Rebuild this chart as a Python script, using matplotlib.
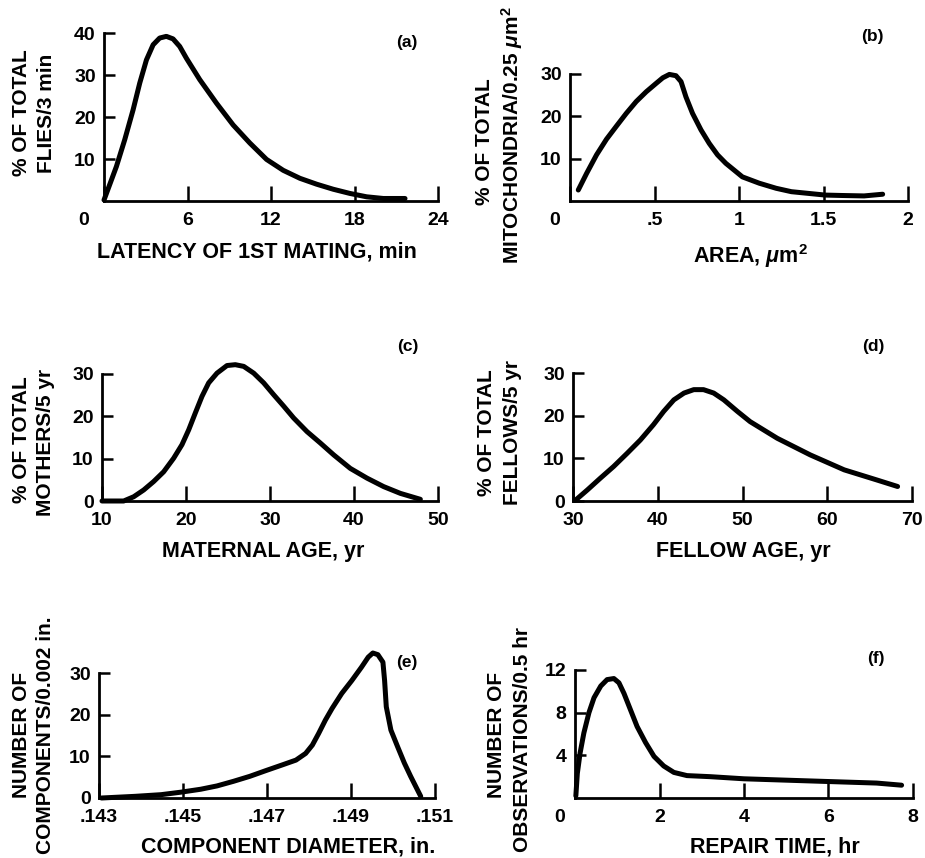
import matplotlib
matplotlib.use("Agg")
import matplotlib.pyplot as plt

plt.rcParams['font.family'] = ['Liberation Sans', 'DejaVu Sans']
plt.rcParams['font.weight'] = 'bold'
plt.rcParams['mathtext.fontset'] = 'custom'
plt.rcParams['mathtext.rm'] = 'Liberation Sans:bold'
plt.rcParams['mathtext.it'] = 'Liberation Sans:bold:italic'

W, H = 925, 858

# (a) latency of first mating
a_x = [0, 0.89, 1.49, 2.09, 2.57, 3.05, 3.53, 4.0, 4.48, 4.96, 5.44, 5.92, 6.88, 8.08,
       9.28, 10.48, 11.68, 12.88, 14.08, 15.28, 16.47, 17.67, 18.87, 20.07, 21.63]
a_y = [0.24, 8.2, 14.6, 21.7, 28.1, 33.6, 37.2, 38.8, 39.2, 38.6, 36.8, 34.0, 28.9, 23.3,
       18.1, 13.8, 9.9, 7.3, 5.4, 4.0, 2.8, 1.8, 1.0, 0.6, 0.6]

# (b) mitochondria area
b_x = [0.049, 0.098, 0.157, 0.216, 0.275, 0.333, 0.392, 0.451, 0.51, 0.549, 0.588, 0.627,
       0.657, 0.686, 0.725, 0.775, 0.824, 0.873, 0.922, 1.02, 1.12, 1.22, 1.31, 1.41, 1.51,
       1.61, 1.74, 1.85]
b_y = [2.6, 6.5, 10.9, 14.6, 17.7, 20.7, 23.5, 25.8, 27.8, 29.1, 29.9, 29.6,
       28.2, 24.6, 20.7, 16.8, 13.6, 10.9, 8.9, 5.7, 4.2, 3.0, 2.2, 1.8, 1.4,
       1.3, 1.2, 1.6]

# (c) maternal age
c_x = [10, 12.58, 13.77, 14.96, 16.15, 17.34, 18.53, 19.52, 20.32, 21.11, 21.9, 22.7, 23.69,
       24.88, 25.87, 26.87, 28.06, 29.25, 30.44, 31.63, 32.82, 34.4, 35.99, 37.58, 39.56,
       41.55, 43.53, 45.52, 47.9]
c_y = [0, 0, 1.0, 2.6, 4.6, 6.9, 10.1, 13.3, 16.8, 20.8, 24.7, 27.9, 30.2,
       32.0, 32.2, 31.8, 30.2, 27.9, 25.1, 22.4, 19.6, 16.4, 13.7, 10.9, 7.7,
       5.4, 3.4, 1.8, 0.4]

# (d) fellow age
d_x = [30.3, 31.7, 33.2, 34.8, 36.4, 37.95, 39.5, 40.7, 41.9, 43.1, 44.25, 45.4, 46.6, 47.8,
       49.4, 50.9, 54.1, 58.0, 62.0, 65.9, 68.3]
d_y = [0.2, 2.6, 5.3, 8.1, 11.2, 14.3, 17.9, 21.0, 23.7, 25.3, 26.1, 26.1, 25.3, 23.7,
       21.0, 18.6, 14.7, 10.8, 7.3, 4.9, 3.4]

# (e) component diameter
e_x = [.14306, .14386, .14448, .14495, .14542, .14581, .1462, .14659, .14698, .14738, .14769,
       .14792, .14808, .14823, .14839, .14855, .14878, .14902, .14925, .14941, .14952, .14964,
       .14976, .1498, .14984, .14995, .15011, .15027, .15042, .15066]
e_y = [0, 0.4, 0.8, 1.4, 2.1, 2.9, 4.0, 5.2, 6.6, 8.0, 9.1,
       10.7, 12.7, 15.5, 18.7, 21.5, 25.1, 28.2, 31.4, 33.8, 34.8, 34.4,
       32.6, 28.2, 21.9, 16.3, 12.3, 8.4, 5.2, 0.4]

# (f) repair time
f_x = [0.02, 0.055, 0.12, 0.21, 0.33, 0.45, 0.61, 0.76, 0.92, 1.04, 1.16, 1.31, 1.47, 1.67,
       1.87, 2.1, 2.34, 2.65, 3.2, 4.0, 5.17, 6.35, 7.14, 7.73]
f_y = [0.2, 2.3, 4.2, 6.1, 8.0, 9.4, 10.5, 11.1, 11.2, 10.8, 9.8, 8.3, 6.7, 5.2,
       3.9, 3.0, 2.4, 2.1, 2.0, 1.8, 1.65, 1.5, 1.4, 1.2]

panels = [
    dict(tag='(a)', x=a_x, y=a_y, box=(104, 438, 33, 201), xlim=(0, 24), ylim=(0, 40),
         xt=[0, 6, 12, 18, 24], xtl=['', '6', '12', '18', '24'],
         yt=[10, 20, 30, 40], ytl=['10', '20', '30', '40'], corner=-15,
         xlab='LATENCY OF 1ST MATING, min', xlab_pos=(257, 258),
         ylab=['% OF TOTAL', 'FLIES/3 min'], ylab_pos=[(22, 113), (46, 113)], tag_pos=(407, 43)),
    dict(tag='(b)', x=b_x, y=b_y, box=(570, 908, 74, 201), xlim=(0, 2), ylim=(0, 30),
         xt=[0, 0.5, 1, 1.5, 2], xtl=['', '.5', '1', '1.5', '2'],
         yt=[10, 20, 30], ytl=['10', '20', '30'], corner=-11,
         xlab=r'AREA, $\mu$m$^2$', xlab_pos=(750, 263),
         ylab=['% OF TOTAL', r'MITOCHONDRIA/0.25 $\mu$m$^2$'], ylab_pos=[(485, 142), (512, 135)],
         tag_pos=(872, 36)),
    dict(tag='(c)', x=c_x, y=c_y, box=(102, 438, 374, 501), xlim=(10, 50), ylim=(0, 30),
         xt=[10, 20, 30, 40, 50], xtl=['10', '20', '30', '40', '50'],
         yt=[0, 10, 20, 30], ytl=['0', '10', '20', '30'], corner=None,
         xlab='MATERNAL AGE, yr', xlab_pos=(263, 557),
         ylab=['% OF TOTAL', 'MOTHERS/5 yr'], ylab_pos=[(22, 440), (46, 442)], tag_pos=(408, 347)),
    dict(tag='(d)', x=d_x, y=d_y, box=(573, 912, 373, 501), xlim=(30, 70), ylim=(0, 30),
         xt=[30, 40, 50, 60, 70], xtl=['30', '40', '50', '60', '70'],
         yt=[0, 10, 20, 30], ytl=['0', '10', '20', '30'], corner=None,
         xlab='FELLOW AGE, yr', xlab_pos=(743, 557),
         ylab=['% OF TOTAL', 'FELLOWS/5 yr'], ylab_pos=[(487, 433), (512, 433)], tag_pos=(873, 347)),
    dict(tag='(e)', x=e_x, y=e_y, box=(99, 435, 673, 798), xlim=(.143, .151), ylim=(0, 30),
         xt=[.143, .145, .147, .149, .151], xtl=['.143', '.145', '.147', '.149', '.151'],
         yt=[0, 10, 20, 30], ytl=['0', '10', '20', '30'], corner=None,
         xlab='COMPONENT DIAMETER, in.', xlab_pos=(288, 853),
         ylab=['NUMBER OF', 'COMPONENTS/0.002 in.'], ylab_pos=[(22, 735), (46, 735)], tag_pos=(407, 662)),
    dict(tag='(f)', x=f_x, y=f_y, box=(575, 913, 670, 798), xlim=(0, 8), ylim=(0, 12),
         xt=[0, 2, 4, 6, 8], xtl=['', '2', '4', '6', '8'],
         yt=[4, 8, 12], ytl=['4', '8', '12'], corner=-11,
         xlab='REPAIR TIME, hr', xlab_pos=(775, 852),
         ylab=['NUMBER OF', 'OBSERVATIONS/0.5 hr'], ylab_pos=[(497, 735), (522, 740)], tag_pos=(876, 658)),
]

fig = plt.figure(figsize=(W / 100, H / 100), dpi=100)

for p in panels:
    l, r, t, b = p['box']
    ax = fig.add_axes([l / W, 1 - b / H, (r - l) / W, (b - t) / H])
    ax.plot(p['x'], p['y'], color='black', lw=3.6, solid_capstyle='round',
            solid_joinstyle='round', clip_on=False)
    ax.set_xlim(*p['xlim'])
    ax.set_ylim(*p['ylim'])
    for s in ['top', 'right']:
        ax.spines[s].set_visible(False)
    for s in ['left', 'bottom']:
        ax.spines[s].set_linewidth(2)
    ax.set_xticks(p['xt'])
    ax.set_xticklabels(p['xtl'])
    ax.set_yticks(p['yt'])
    ax.set_yticklabels(p['ytl'])
    ax.tick_params(axis='x', direction='in', length=11, width=1.8, pad=8, labelsize=14)
    ax.tick_params(axis='y', direction='in', length=8, width=1.8, pad=6, labelsize=14)
    ax.patch.set_visible(False)
    if p['corner'] is not None:
        ax.annotate('0', xy=(0, 0), xycoords='axes fraction', xytext=(p['corner'], -8),
                    textcoords='offset points', ha='center', va='top', fontsize=14,
                    fontweight='bold')
    fig.text(p['xlab_pos'][0] / W, 1 - p['xlab_pos'][1] / H, p['xlab'], ha='center',
             va='baseline', fontsize=15.5, fontweight='bold')
    for txt, pos in zip(p['ylab'], p['ylab_pos']):
        fig.text(pos[0] / W, 1 - pos[1] / H, txt, ha='center', va='center', rotation=90,
                 fontsize=15, fontweight='bold')
    fig.text(p['tag_pos'][0] / W, 1 - p['tag_pos'][1] / H, p['tag'], ha='center', va='center',
             fontsize=12.5, fontweight='bold')

fig.savefig('out.png', dpi=100)
